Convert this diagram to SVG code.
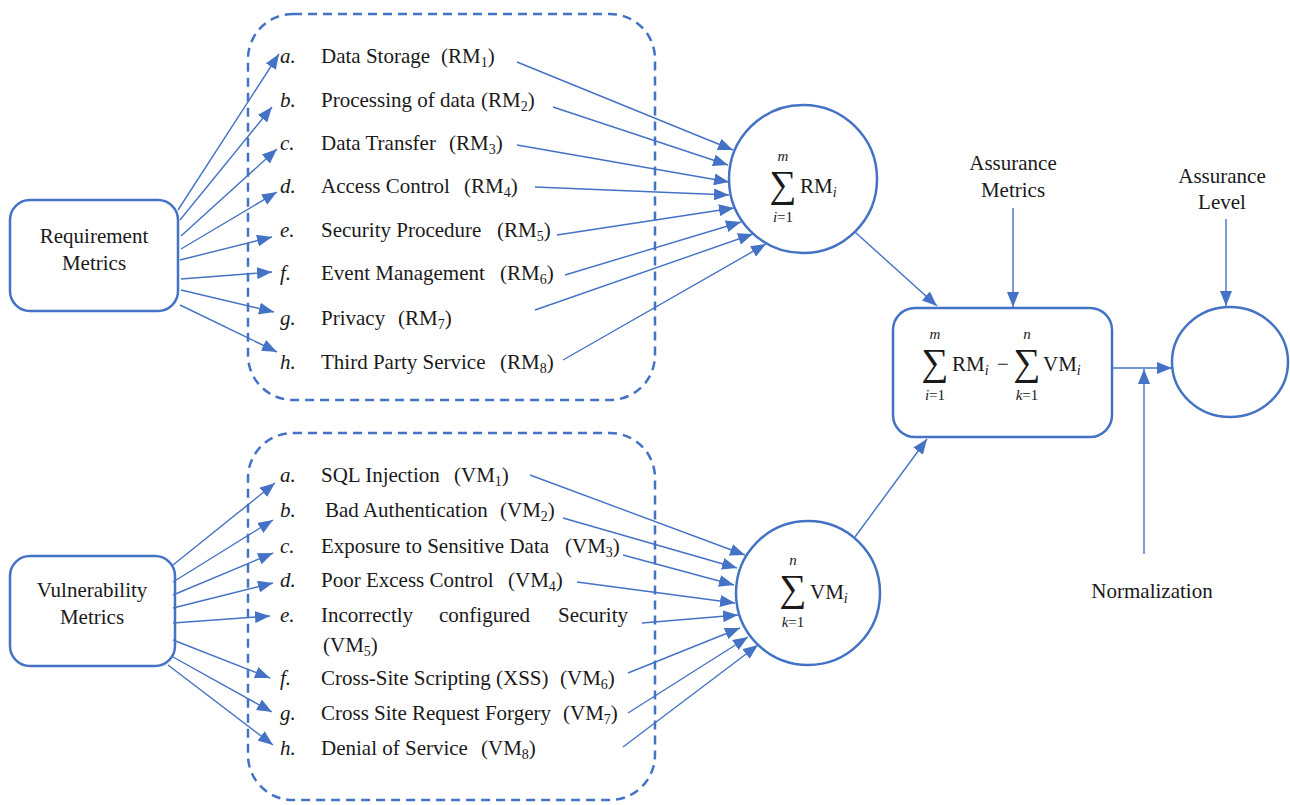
<svg xmlns="http://www.w3.org/2000/svg" width="1290" height="805" viewBox="0 0 1290 805">
<style>
.t{font-family:"Liberation Serif",serif;fill:#1a1a1a;font-size:21px}
.it{font-style:italic}
.sub{font-size:14px}
.sm{font-size:15px}
.sig{font-size:38px}
.node{fill:#fff;stroke:#4472C4;stroke-width:2.5}
.dash{fill:none;stroke:#4472C4;stroke-width:2.5;stroke-dasharray:9 6}
.con{stroke:#4472C4;stroke-width:1.4;fill:none;marker-end:url(#ah)}
.mid{text-anchor:middle}
</style>
<defs>
<marker id="ah" markerUnits="userSpaceOnUse" markerWidth="15" markerHeight="12" refX="15" refY="6" orient="auto">
<path d="M0,0 L15,6 L0,12 z" fill="#4472C4"/>
</marker>
</defs>
<rect width="1290" height="805" fill="#fff"/>

<g id="rm-group"><rect class="dash" x="248" y="14" width="407" height="386" rx="45"/></g>
<g id="vm-group"><rect class="dash" x="248" y="433" width="407" height="367" rx="45"/></g>

<g id="requirement-metrics">
<rect class="node" x="10" y="200" width="168" height="111" rx="20"/>
<text class="t mid" x="94" y="243">Requirement</text>
<text class="t mid" x="94" y="270">Metrics</text>
</g>
<g id="vulnerability-metrics">
<rect class="node" x="10" y="556" width="165" height="110" rx="20"/>
<text class="t mid" x="92" y="597">Vulnerability</text>
<text class="t mid" x="92" y="624">Metrics</text>
</g>

<g id="rm-items">
<text class="t"><tspan class="it" x="280" y="63">a.</tspan><tspan x="321">Data Storage</tspan><tspan x="441">(RM</tspan><tspan class="sub" dy="4">1</tspan><tspan dy="-4">)</tspan></text>
<text class="t"><tspan class="it" x="280" y="107">b.</tspan><tspan x="321">Processing of data</tspan><tspan x="481">(RM</tspan><tspan class="sub" dy="4">2</tspan><tspan dy="-4">)</tspan></text>
<text class="t"><tspan class="it" x="280" y="150">c.</tspan><tspan x="321">Data Transfer</tspan><tspan x="449">(RM</tspan><tspan class="sub" dy="4">3</tspan><tspan dy="-4">)</tspan></text>
<text class="t"><tspan class="it" x="280" y="193">d.</tspan><tspan x="321">Access Control</tspan><tspan x="464">(RM</tspan><tspan class="sub" dy="4">4</tspan><tspan dy="-4">)</tspan></text>
<text class="t"><tspan class="it" x="280" y="237">e.</tspan><tspan x="321">Security Procedure</tspan><tspan x="497">(RM</tspan><tspan class="sub" dy="4">5</tspan><tspan dy="-4">)</tspan></text>
<text class="t"><tspan class="it" x="280" y="280">f.</tspan><tspan x="321">Event Management</tspan><tspan x="500">(RM</tspan><tspan class="sub" dy="4">6</tspan><tspan dy="-4">)</tspan></text>
<text class="t"><tspan class="it" x="280" y="325">g.</tspan><tspan x="321">Privacy</tspan><tspan x="398">(RM</tspan><tspan class="sub" dy="4">7</tspan><tspan dy="-4">)</tspan></text>
<text class="t"><tspan class="it" x="280" y="369">h.</tspan><tspan x="321">Third Party Service</tspan><tspan x="500">(RM</tspan><tspan class="sub" dy="4">8</tspan><tspan dy="-4">)</tspan></text>
</g>

<g id="vm-items">
<text class="t"><tspan class="it" x="280" y="482">a.</tspan><tspan x="321">SQL Injection</tspan><tspan x="454">(VM</tspan><tspan class="sub" dy="4">1</tspan><tspan dy="-4">)</tspan></text>
<text class="t"><tspan class="it" x="280" y="517">b.</tspan><tspan x="325">Bad Authentication</tspan><tspan x="500">(VM</tspan><tspan class="sub" dy="4">2</tspan><tspan dy="-4">)</tspan></text>
<text class="t"><tspan class="it" x="280" y="553">c.</tspan><tspan x="321">Exposure to Sensitive Data</tspan><tspan x="565">(VM</tspan><tspan class="sub" dy="4">3</tspan><tspan dy="-4">)</tspan></text>
<text class="t"><tspan class="it" x="280" y="587">d.</tspan><tspan x="321">Poor Excess Control</tspan><tspan x="508">(VM</tspan><tspan class="sub" dy="4">4</tspan><tspan dy="-4">)</tspan></text>
<text class="t"><tspan class="it" x="280" y="622">e.</tspan><tspan x="321">Incorrectly</tspan><tspan x="439">configured</tspan><tspan x="558">Security</tspan></text>
<text class="t"><tspan x="323" y="652">(VM</tspan><tspan class="sub" dy="4">5</tspan><tspan dy="-4">)</tspan></text>
<text class="t"><tspan class="it" x="280" y="685">f.</tspan><tspan x="321">Cross-Site Scripting (XSS)</tspan><tspan x="560">(VM</tspan><tspan class="sub" dy="4">6</tspan><tspan dy="-4">)</tspan></text>
<text class="t"><tspan class="it" x="280" y="720">g.</tspan><tspan x="321">Cross Site Request Forgery</tspan><tspan x="563">(VM</tspan><tspan class="sub" dy="4">7</tspan><tspan dy="-4">)</tspan></text>
<text class="t"><tspan class="it" x="280" y="755">h.</tspan><tspan x="321">Denial of Service</tspan><tspan x="481">(VM</tspan><tspan class="sub" dy="4">8</tspan><tspan dy="-4">)</tspan></text>
</g>

<g id="sum-rm">
<circle class="node" cx="803" cy="179" r="74"/>
<text class="t sig mid" x="783" y="197">∑</text>
<text class="t sm it mid" x="783" y="161">m</text>
<text class="t sm mid" x="783" y="222"><tspan class="it">i</tspan>=1</text>
<text class="t" x="800" y="193">RM<tspan class="sub it" dy="4">i</tspan></text>
</g>

<g id="sum-vm">
<circle class="node" cx="808" cy="593" r="72"/>
<text class="t sig mid" x="793" y="601">∑</text>
<text class="t sm it mid" x="793" y="565">n</text>
<text class="t sm mid" x="793" y="627"><tspan class="it">k</tspan>=1</text>
<text class="t" x="810" y="599">VM<tspan class="sub it" dy="4">i</tspan></text>
</g>

<g id="difference">
<rect class="node" x="893" y="308" width="219" height="129" rx="22"/>
<text class="t sig mid" x="935" y="375">∑</text>
<text class="t sm it mid" x="935" y="339">m</text>
<text class="t sm mid" x="935" y="400"><tspan class="it">i</tspan>=1</text>
<text class="t" x="952" y="371">RM<tspan class="sub it" dy="4">i</tspan></text>
<text class="t mid" x="1003" y="371">−</text>
<text class="t sig mid" x="1027" y="375">∑</text>
<text class="t sm it mid" x="1027" y="339">n</text>
<text class="t sm mid" x="1027" y="400"><tspan class="it">k</tspan>=1</text>
<text class="t" x="1043" y="371">VM<tspan class="sub it" dy="4">i</tspan></text>
</g>

<g id="assurance-level-node">
<ellipse class="node" cx="1230" cy="362" rx="58" ry="55"/>
</g>

<g id="labels">
<text class="t mid" x="1013" y="170">Assurance</text>
<text class="t mid" x="1013" y="197">Metrics</text>
<text class="t mid" x="1222" y="183">Assurance</text>
<text class="t mid" x="1222" y="209">Level</text>
<text class="t mid" x="1152" y="598">Normalization</text>
</g>

<g id="connectors">
<line class="con" x1="178" y1="210" x2="279" y2="54"/>
<line class="con" x1="180" y1="220" x2="272" y2="107"/>
<line class="con" x1="181" y1="236" x2="277" y2="149"/>
<line class="con" x1="181" y1="249" x2="277" y2="192"/>
<line class="con" x1="180" y1="260" x2="272" y2="237"/>
<line class="con" x1="181" y1="279" x2="272" y2="272"/>
<line class="con" x1="181" y1="290" x2="274" y2="312"/>
<line class="con" x1="180" y1="305" x2="277" y2="352"/>

<line class="con" x1="517" y1="62" x2="733" y2="150"/>
<line class="con" x1="553" y1="107" x2="728" y2="165"/>
<line class="con" x1="517" y1="145" x2="729" y2="182"/>
<line class="con" x1="535" y1="187" x2="729" y2="195"/>
<line class="con" x1="557" y1="235" x2="734" y2="208"/>
<line class="con" x1="565" y1="275" x2="741" y2="222"/>
<line class="con" x1="535" y1="310" x2="753" y2="234"/>
<line class="con" x1="563" y1="360" x2="766" y2="244"/>

<line class="con" x1="173" y1="565" x2="275" y2="483"/>
<line class="con" x1="173" y1="582" x2="273" y2="520"/>
<line class="con" x1="173" y1="595" x2="273" y2="553"/>
<line class="con" x1="173" y1="608" x2="273" y2="583"/>
<line class="con" x1="173" y1="623" x2="270" y2="616"/>
<line class="con" x1="173" y1="640" x2="270" y2="678"/>
<line class="con" x1="173" y1="657" x2="272" y2="712"/>
<line class="con" x1="168" y1="665" x2="273" y2="745"/>

<line class="con" x1="530" y1="475" x2="745" y2="555"/>
<line class="con" x1="563" y1="518" x2="737" y2="568"/>
<line class="con" x1="623" y1="555" x2="734" y2="585"/>
<line class="con" x1="577" y1="582" x2="735" y2="603"/>
<line class="con" x1="642" y1="623" x2="738" y2="615"/>
<line class="con" x1="628" y1="673" x2="740" y2="628"/>
<line class="con" x1="628" y1="713" x2="748" y2="637"/>
<line class="con" x1="623" y1="747" x2="758" y2="645"/>

<line class="con" x1="855" y1="232" x2="937" y2="306"/>
<line class="con" x1="855" y1="537" x2="927" y2="439"/>
<line class="con" x1="1013" y1="208" x2="1013" y2="307"/>
<line class="con" x1="1226" y1="219" x2="1226" y2="306"/>
<line class="con" x1="1112" y1="368" x2="1172" y2="368"/>
<line class="con" x1="1144" y1="554" x2="1144" y2="369"/>
</g>
</svg>
